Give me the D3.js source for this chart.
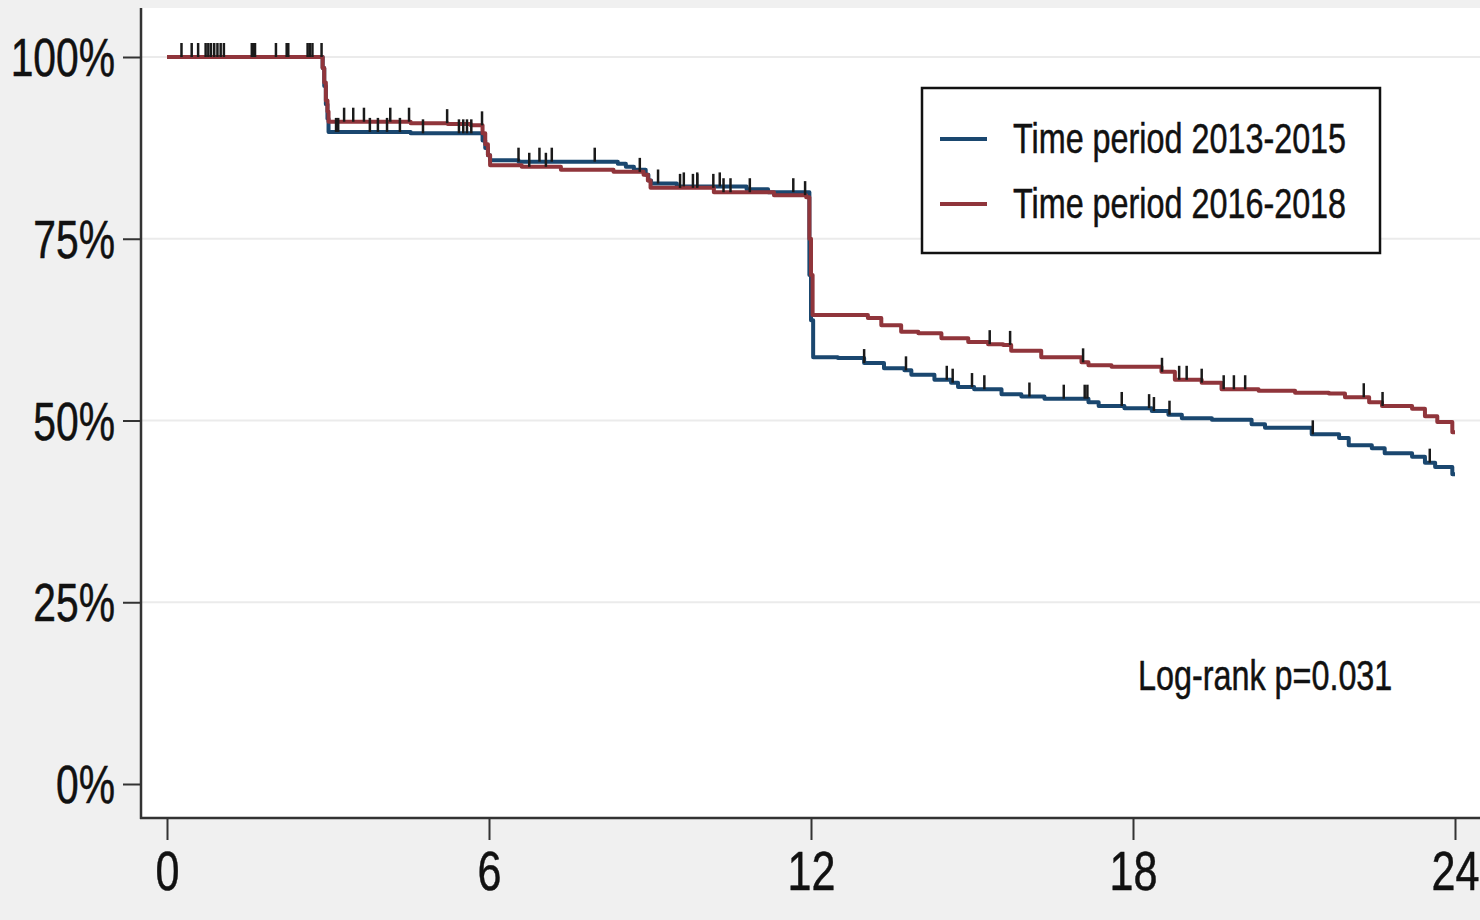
<!DOCTYPE html>
<html>
<head>
<meta charset="utf-8">
<script src="https://cdn.jsdelivr.net/npm/d3@7"></script>
<style>
  html, body { margin: 0; padding: 0; background: #f0f0f0; }
  svg { display: block; }
</style>
</head>
<body>
<svg id="chart" width="1480" height="920"></svg>
<script>
// ---------------- DATA ----------------
const seriesNames = ["Time period 2013-2015", "Time period 2016-2018"];
const seriesColors = ["#1a476f", "#90353b"];

const xTicks = [0, 6, 12, 18, 24];
const yTicks = [0, 0.25, 0.5, 0.75, 1];
const gridValues = [0.25, 0.5, 0.75, 1];

// Kaplan-Meier step points (time in months, survival) for 2013-2015
const blueTimes = [0, 2.90, 2.93, 2.96, 2.99, 3.01, 4.54, 5.88, 5.93, 5.98, 6.02, 6.55, 8.40, 8.55, 8.70, 8.92, 8.97, 9.02, 9.50, 10.80, 11.20, 11.97, 12.00, 12.04, 12.50, 12.99, 13.36, 13.74, 13.87, 14.30, 14.61, 14.74, 15.04, 15.55, 15.92, 16.35, 17.17, 17.36, 17.84, 18.35, 18.66, 18.91, 19.47, 20.21, 20.46, 21.33, 21.84, 22.02, 22.45, 22.69, 23.20, 23.44, 23.63, 23.95];
const blueSurv  = [1.0, 0.985, 0.96, 0.935, 0.915, 0.897, 0.895, 0.885, 0.875, 0.865, 0.858, 0.856, 0.853, 0.849, 0.845, 0.838, 0.830, 0.826, 0.822, 0.818, 0.814, 0.70, 0.638, 0.587, 0.586, 0.579, 0.572, 0.569, 0.563, 0.556, 0.552, 0.546, 0.543, 0.536, 0.533, 0.530, 0.525, 0.520, 0.517, 0.513, 0.508, 0.503, 0.501, 0.495, 0.490, 0.481, 0.476, 0.466, 0.462, 0.455, 0.450, 0.442, 0.436, 0.426];

// Kaplan-Meier step points for 2016-2018
const redTimes = [0, 2.90, 2.93, 2.96, 2.99, 3.01, 4.54, 5.23, 5.66, 5.88, 5.93, 5.98, 6.02, 6.61, 7.34, 8.32, 8.88, 8.96, 9.01, 10.19, 11.31, 11.91, 11.97, 12.00, 12.03, 13.06, 13.31, 13.68, 14.00, 14.43, 14.93, 15.30, 15.58, 15.73, 16.29, 17.04, 17.17, 17.60, 18.53, 18.78, 19.28, 19.65, 20.34, 21.02, 21.65, 21.95, 22.40, 22.64, 23.20, 23.44, 23.67, 23.95];
const redSurv  = [1.0, 0.985, 0.965, 0.94, 0.925, 0.911, 0.909, 0.908, 0.906, 0.895, 0.88, 0.865, 0.851, 0.849, 0.845, 0.842, 0.838, 0.83, 0.820, 0.814, 0.810, 0.807, 0.75, 0.70, 0.645, 0.641, 0.631, 0.622, 0.620, 0.613, 0.608, 0.605, 0.604, 0.596, 0.587, 0.580, 0.576, 0.574, 0.567, 0.556, 0.552, 0.543, 0.541, 0.538, 0.537, 0.532, 0.525, 0.520, 0.516, 0.506, 0.498, 0.484];

const endTime = 24;

// Censoring times
const blueCensor = [0.27, 0.58, 0.77, 0.88, 1.00, 1.58, 1.64, 2.23, 2.62, 2.71,
  3.15, 3.19, 3.78, 3.93, 4.10, 4.34, 4.77, 5.44, 5.52, 5.59, 5.67,
  6.55, 6.94, 7.17, 7.97, 9.15, 9.63, 9.88, 10.30, 11.67,
  12.99, 13.77, 14.53, 14.64, 15.00, 15.23, 16.07, 16.71, 17.10, 17.15, 17.79, 18.30, 18.39, 18.68, 21.35, 23.53];
const redCensor = [0.46, 0.72, 0.82, 0.94, 1.06, 1.61, 2.03, 2.26, 2.66, 2.88,
  3.30, 3.47, 3.67, 4.16, 4.51, 5.22, 5.87,
  6.75, 7.06, 8.81, 9.56, 9.80, 9.88, 10.18, 10.37, 10.50, 10.86, 11.89,
  15.33, 15.71, 17.07, 18.54, 18.86, 19.00, 19.28, 19.69, 19.88, 20.09, 22.30, 22.65];

const annotation = "Log-rank p=0.031";

// ---------------- DRAW ----------------
const svg = d3.select("#chart");
const W = 1480, H = 920;
const SX = 0.77; // horizontal text compression
const FONT = "'Liberation Sans', Arial, Helvetica, sans-serif";
const TEXT_STROKE = 0.5;

const plot = { left: 141, top: 8, right: 1480, bottom: 818 };

const x = d3.scaleLinear().domain([0, 24]).range([167, 1455]);
const y = d3.scaleLinear().domain([0, 1]).range([784, 57]);

svg.append("rect").attr("x", 0).attr("y", 0).attr("width", W).attr("height", H).attr("fill", "#f0f0f0");
svg.append("rect").attr("x", plot.left).attr("y", plot.top)
  .attr("width", plot.right - plot.left).attr("height", plot.bottom - plot.top).attr("fill", "#ffffff");

// gridlines
svg.append("g").selectAll("line").data(gridValues).join("line")
  .attr("x1", plot.left).attr("x2", plot.right)
  .attr("y1", d => y(d)).attr("y2", d => y(d))
  .attr("stroke", "#ebebeb").attr("stroke-width", 2);

// Y axis
const yAxis = d3.axisLeft(y).tickValues(yTicks).tickSize(18).tickSizeOuter(0)
  .tickFormat(d => d3.format(".0%")(d));
const gy = svg.append("g").attr("transform", `translate(${plot.left},0)`).call(yAxis);
gy.select(".domain").remove();
gy.selectAll(".tick line").attr("stroke", "#333").attr("stroke-width", 2);
gy.selectAll(".tick text")
  .attr("font-family", FONT).attr("font-size", 53).attr("fill", "#111")
  .attr("stroke", "#111").attr("stroke-width", TEXT_STROKE)
  .attr("x", -26 / SX).attr("dy", "0.35em")
  .attr("transform", `scale(${SX},1)`);

// X axis
const xAxis = d3.axisBottom(x).tickValues(xTicks).tickSize(22).tickSizeOuter(0).tickFormat(d3.format("d"));
const gx = svg.append("g").attr("transform", `translate(0,${plot.bottom})`).call(xAxis);
gx.select(".domain").remove();
gx.selectAll(".tick line").attr("stroke", "#333").attr("stroke-width", 2);
gx.selectAll(".tick text")
  .attr("font-family", FONT).attr("font-size", 56).attr("fill", "#111")
  .attr("stroke", "#111").attr("stroke-width", TEXT_STROKE)
  .attr("y", 72).attr("dy", 0)
  .attr("transform", `scale(${SX},1)`);

// axis lines
svg.append("line").attr("x1", plot.left).attr("x2", plot.left).attr("y1", plot.top).attr("y2", plot.bottom + 1)
  .attr("stroke", "#333").attr("stroke-width", 2.5);
svg.append("line").attr("x1", plot.left - 1).attr("x2", plot.right).attr("y1", plot.bottom).attr("y2", plot.bottom)
  .attr("stroke", "#333").attr("stroke-width", 2.5);

// curves
function pts(times, surv) {
  const p = times.map((t, i) => [t, surv[i]]);
  p.push([endTime, surv[surv.length - 1]]);
  return p;
}
function stepValue(times, surv, t) {
  let v = surv[0];
  for (let i = 0; i < times.length; i++) { if (times[i] <= t) v = surv[i]; else break; }
  return v;
}
const line = d3.line().x(d => x(d[0])).y(d => y(d[1])).curve(d3.curveStepAfter);

const series = [
  { times: blueTimes, surv: blueSurv, censor: blueCensor, color: seriesColors[0] },
  { times: redTimes, surv: redSurv, censor: redCensor, color: seriesColors[1] }
];

series.forEach(s => {
  svg.append("path").datum(pts(s.times, s.surv))
    .attr("d", line).attr("fill", "none")
    .attr("stroke", s.color).attr("stroke-width", 4)
    .attr("stroke-linejoin", "round");
});

series.forEach(s => {
  svg.append("g").selectAll("line").data(s.censor).join("line")
    .attr("x1", d => x(d)).attr("x2", d => x(d))
    .attr("y1", d => y(stepValue(s.times, s.surv, d)))
    .attr("y2", d => y(stepValue(s.times, s.surv, d)) - 14)
    .attr("stroke", "#1a1a1a").attr("stroke-width", 2.5);
});

// legend
const lg = svg.append("g");
lg.append("rect").attr("x", 922).attr("y", 88).attr("width", 458).attr("height", 165)
  .attr("fill", "#fff").attr("stroke", "#111").attr("stroke-width", 2.5);
const legendRows = [139, 204];
seriesNames.forEach((name, i) => {
  lg.append("line").attr("x1", 940).attr("x2", 987).attr("y1", legendRows[i]).attr("y2", legendRows[i])
    .attr("stroke", seriesColors[i]).attr("stroke-width", 4);
  lg.append("text").attr("transform", `translate(1013,${legendRows[i] + 14}) scale(${SX},1)`)
    .attr("font-family", FONT).attr("font-size", 42).attr("fill", "#111")
    .attr("stroke", "#111").attr("stroke-width", TEXT_STROKE).text(name);
});

// annotation
svg.append("text").attr("transform", `translate(1138,690) scale(${SX},1)`)
  .attr("font-family", FONT).attr("font-size", 42).attr("fill", "#111")
  .attr("stroke", "#111").attr("stroke-width", TEXT_STROKE).text(annotation);
</script>
</body>
</html>
